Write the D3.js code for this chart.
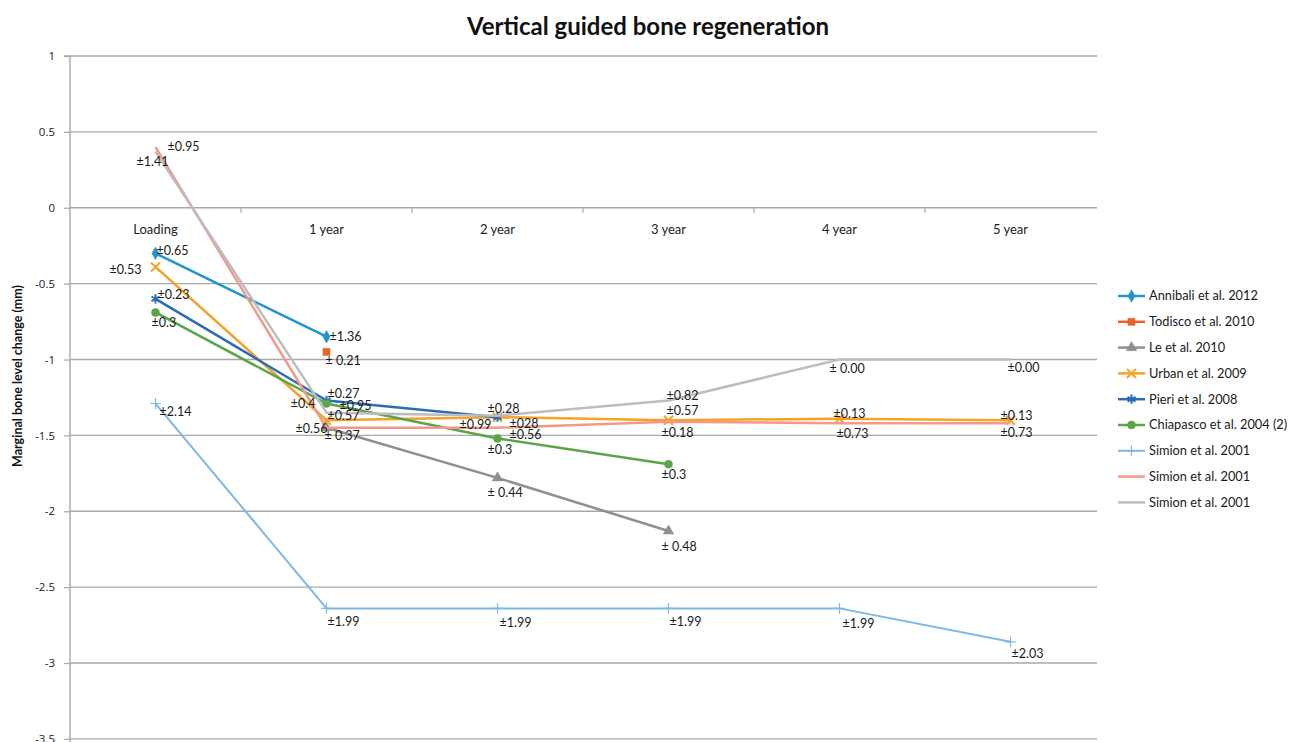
<!DOCTYPE html>
<html>
<head>
<meta charset="utf-8">
<script src="https://cdn.jsdelivr.net/npm/d3@7"></script>
<style>
  html, body { margin: 0; padding: 0; background: #fff; }
  svg { display: block; }
</style>
</head>
<body>
<svg id="chart" width="1291" height="742"></svg>
<script>
// ---------- DATA ----------
const categories = ["Loading", "1 year", "2 year", "3 year", "4 year", "5 year"];
const yTicks = [1, 0.5, 0, -0.5, -1, -1.5, -2, -2.5, -3, -3.5];

const seriesNames = [
  "Annibali et al. 2012", "Todisco et al. 2010", "Le et al. 2010",
  "Urban et al. 2009", "Pieri et al. 2008", "Chiapasco et al. 2004 (2)",
  "Simion et al. 2001", "Simion et al. 2001", "Simion et al. 2001"
];

const annibaliValues  = [-0.30, -0.85, null, null, null, null];
const todiscoValues   = [null, -0.95, null, null, null, null];
const leValues        = [null, -1.45, -1.78, -2.13, null, null];
const urbanValues     = [-0.39, -1.40, -1.38, -1.40, -1.39, -1.40];
const pieriValues     = [-0.60, -1.27, -1.38, null, null, null];
const chiapascoValues = [-0.69, -1.29, -1.52, -1.69, null, null];
const simionAValues   = [-1.29, -2.64, -2.64, -2.64, -2.64, -2.86];
const simionBValues   = [0.40, -1.45, -1.45, -1.41, -1.42, -1.42];
const simionCValues   = [0.37, -1.35, -1.37, -1.27, -1.00, -1.00];

const annibaliLabels  = ["±0.65", "±1.36", null, null, null, null];
const todiscoLabels   = [null, "± 0.21", null, null, null, null];
const leLabels        = [null, "± 0.37", "± 0.44", "± 0.48", null, null];
const urbanLabels     = ["±0.53", "±0.4", "±0.99", "±0.57", "±0.13", "±0.13"];
const pieriLabels     = ["±0.23", "±0.27", "±028", null, null, null];
const chiapascoLabels = ["±0.3", "±0.95", "±0.3", "±0.3", null, null];
const simionALabels   = ["±2.14", "±1.99", "±1.99", "±1.99", "±1.99", "±2.03"];
const simionBLabels   = ["±0.95", "±0.56", "±0.56", "±0.18", "±0.73", "±0.73"];
const simionCLabels   = ["±1.41", "±0.57", "±0.28", "±0.82", "± 0.00", "±0.00"];

const seriesValues = [annibaliValues, todiscoValues, leValues, urbanValues, pieriValues,
  chiapascoValues, simionAValues, simionBValues, simionCValues];
const seriesLabels = [annibaliLabels, todiscoLabels, leLabels, urbanLabels, pieriLabels,
  chiapascoLabels, simionALabels, simionBLabels, simionCLabels];

// ---------- STYLE / LAYOUT ----------
const colors = ["#2196cd", "#e8622a", "#8f8f8f", "#f4a228", "#2a6db5", "#5aa547",
  "#7db9e2", "#f29a8a", "#bdbdbd"];
const markers = ["diamond", "square", "triangle", "x", "star", "circle", "plus", "none", "none"];
const widths = [2.5, 2.5, 2.5, 2.5, 2.5, 2.5, 2, 2.5, 2.5];
const fontMain = "Lato, 'Open Sans', sans-serif";

// label offsets [dx, dy, anchor] relative to the point (text centre line)
const labelOffsets = [
  [[1,-3,"start"],[3,0,"start"],null,null,null,null],
  [null,[-1,9,"start"],null,null,null,null],
  [null,[-2,8,"start"],[-10,15,"start"],[-7,16,"start"],null,null],
  [[-14,3,"end"],[-11,-17,"end"],[-6,7,"end"],[-2,-10,"start"],[-6,-5,"start"],[-10,-5,"start"]],
  [[2,-4,"start"],[1,-7,"start"],[12,6,"start"],null,null,null],
  [[-4,10,"start"],[13,2,"start"],[-10,11,"start"],[-7,10,"start"],null,null],
  [[4,8,"start"],[1,13,"start"],[2,14,"start"],[1,13,"start"],[3,15,"start"],[1,12,"start"]],
  [[12,0,"start"],[1,1,"end"],[12,7,"start"],[-7,11,"start"],[-3,10,"start"],[-10,9,"start"]],
  [[-19,10,"start"],[1,3,"start"],[-10,-7,"start"],[-2,-5,"start"],[-10,9,"start"],[-3,8,"start"]]
];

const svg = d3.select("#chart");
const plotLeft = 70, plotRight = 1097, yTop = 56, yBottom = 738.9;

const x = d3.scaleBand().domain(categories).range([plotLeft, plotRight - 1]).paddingInner(0).paddingOuter(0);
const cx = c => x(c) + x.bandwidth() / 2;
const y = d3.scaleLinear().domain([1, -3.5]).range([yTop, yBottom]);

// Title
svg.append("text")
  .attr("x", 648).attr("y", 35)
  .attr("text-anchor", "middle")
  .attr("font-family", fontMain)
  .attr("font-weight", "bold")
  .attr("font-size", 24)
  .attr("fill", "#111")
  .text("Vertical guided bone regeneration");

// Gridlines
svg.append("g").selectAll("line").data(yTicks).join("line")
  .attr("x1", plotLeft).attr("x2", plotRight)
  .attr("y1", d => y(d)).attr("y2", d => y(d))
  .attr("stroke", "#a8a8a8").attr("stroke-width", 1.4);

// Y axis
const yAxis = d3.axisLeft(y).tickValues(yTicks).tickSize(6).tickPadding(9)
  .tickFormat(d => d3.format("")(d).replace("−", "-"));
const gy = svg.append("g").attr("transform", `translate(${plotLeft},0)`).call(yAxis);
gy.select(".domain").attr("stroke", "#a8a8a8").attr("stroke-width", 1.4)
  .attr("d", `M-6,${yTop}H0V${yBottom + 10}`);
gy.selectAll(".tick line").attr("stroke", "#a8a8a8").attr("stroke-width", 1.2);
gy.selectAll(".tick text")
  .attr("font-family", "'Open Sans', sans-serif").attr("font-size", 11.5).attr("fill", "#222");

// X axis at y = 0 (labels below the line)
const xAxis = d3.axisBottom(x).tickSize(0).tickPadding(17);
const gx = svg.append("g").attr("transform", `translate(0,${y(0)})`).call(xAxis);
gx.select(".domain").remove();
gx.selectAll(".tick text")
  .attr("font-family", fontMain).attr("font-size", 13).attr("fill", "#222");
// tick marks between categories
svg.append("g").selectAll("line").data(categories.slice(1)).join("line")
  .attr("x1", d => x(d)).attr("x2", d => x(d))
  .attr("y1", y(0)).attr("y2", y(0) + 5)
  .attr("stroke", "#a8a8a8").attr("stroke-width", 1.2);

// Y-axis title
svg.append("text")
  .attr("transform", `translate(22,${376}) rotate(-90)`)
  .attr("text-anchor", "middle")
  .attr("font-family", fontMain)
  .attr("font-weight", "bold").attr("font-size", 12.5).attr("fill", "#111")
  .text("Marginal bone level change (mm)");

// Marker helper
function drawMarker(g, type, px, py, color) {
  const sym = {
    diamond: [d3.symbolDiamond, 45, true],
    square: [d3.symbolSquare, 50, true],
    triangle: [d3.symbolTriangle, 48, true],
    circle: [d3.symbolCircle, 50, true],
    x: [d3.symbolTimes, 55, false],
    star: [d3.symbolAsterisk, 60, false],
    plus: [d3.symbolPlus, 40, false]
  }[type];
  if (!sym) return;
  g.append("path")
    .attr("d", d3.symbol().type(sym[0]).size(sym[1])())
    .attr("transform", `translate(${px},${py})`)
    .attr("fill", sym[2] ? color : "none")
    .attr("stroke", color)
    .attr("stroke-width", sym[2] ? 0.5 : (type === "plus" ? 1.2 : 2));
}

// Series lines and markers
const line = d3.line().defined(d => d.v !== null).x(d => cx(d.c)).y(d => y(d.v));
seriesValues.forEach((vals, i) => {
  const pts = vals.map((v, j) => ({ c: categories[j], v }));
  const g = svg.append("g");
  g.append("path").datum(pts).attr("d", line)
    .attr("fill", "none").attr("stroke", colors[i]).attr("stroke-width", widths[i])
    .attr("stroke-linejoin", "round");
  pts.forEach(p => { if (p.v !== null) drawMarker(g, markers[i], cx(p.c), y(p.v), colors[i]); });
});

// Data labels
seriesValues.forEach((vals, i) => {
  vals.forEach((v, j) => {
    const lab = seriesLabels[i][j];
    const off = labelOffsets[i][j];
    if (v === null || !lab || !off) return;
    svg.append("text")
      .attr("x", cx(categories[j]) + off[0])
      .attr("y", y(v) + off[1])
      .attr("dy", "0.35em")
      .attr("text-anchor", off[2])
      .attr("font-family", fontMain)
      .attr("font-size", 12.5).attr("fill", "#1a1a1a")
      .text(lab);
  });
});

// Legend
const legend = svg.append("g");
seriesNames.forEach((name, i) => {
  const ly = 296 + i * 25.8;
  legend.append("line").attr("x1", 1118).attr("x2", 1145).attr("y1", ly).attr("y2", ly)
    .attr("stroke", colors[i]).attr("stroke-width", widths[i]);
  drawMarker(legend, markers[i], 1131.5, ly, colors[i]);
  legend.append("text").attr("x", 1149).attr("y", ly).attr("dy", "0.35em")
    .attr("font-family", fontMain).attr("font-size", 12.8).attr("fill", "#1a1a1a")
    .text(name);
});
</script>
</body>
</html>
